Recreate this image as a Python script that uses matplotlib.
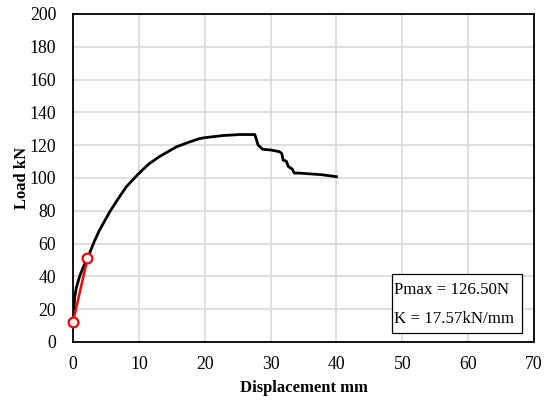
import numpy as np
import matplotlib.pyplot as plt
from matplotlib.patches import Rectangle

plt.rcParams['font.family'] = ['Liberation Serif', 'DejaVu Serif']

# load-displacement curve
disp = [0.0, 0.1, 0.25, 0.5, 1.0, 1.6, 2.5, 3.2, 4.0, 5.6, 6.8, 8.1, 10.0,
        11.5, 13.1, 15.7, 17.7, 19.2, 20.0, 22.8, 25.3, 27.6, 27.8, 28.1,
        28.8, 30.0, 31.3, 31.7, 31.9, 32.4, 32.7, 33.3, 33.6, 34.3, 37.8, 40.0]
load = [10.0, 18.0, 27.0, 33.0, 40.0, 46.0, 54.0, 61.0, 68.0, 79.5, 87.0,
        94.7, 102.8, 108.5, 113.0, 119.0, 122.0, 124.0, 124.6, 125.9, 126.5,
        126.5, 124.2, 120.1, 117.5, 117.1, 116.1, 115.0, 111.0, 110.2, 107.0,
        105.4, 103.0, 103.0, 102.0, 100.8]

# stiffness line points
k_disp = [0.0, 2.2]
k_load = [12.3, 50.95]

x_ticks = np.arange(0, 71, 10)
y_ticks = np.arange(0, 201, 20)
box_lines = ["Pmax = 126.50N", "K = 17.57kN/mm"]

fig = plt.figure(figsize=(5.51, 4.03), dpi=100)
ax = fig.add_axes([73/551, 1 - 342/403, (534-73)/551, (342-14)/403])

ax.plot(disp, load, color="black", linewidth=2.0, zorder=3)
ax.plot(k_disp, k_load, color="red", linewidth=1.8, marker="o",
        markersize=7, markerfacecolor="white", markeredgecolor="red",
        markeredgewidth=1.6, zorder=4, clip_on=False)

ax.set_xlim(0, 70)
ax.set_ylim(0, 200)
ax.set_xticks(x_ticks)
ax.set_yticks(y_ticks)
ax.tick_params(axis="y", length=0, labelsize=12.8, pad=12)
ax.tick_params(axis="x", length=0, labelsize=12.8, pad=10)
ax.grid(True, color="#d9d9d9", linewidth=1.2)
ax.set_axisbelow(True)
for s in ax.spines.values():
    s.set_linewidth(1.3)
    s.set_color("black")

ax.set_xlabel("Displacement mm", fontsize=12, fontweight="bold", labelpad=5)
ax.set_ylabel("Load kN", fontsize=12, fontweight="bold", labelpad=0)

# annotation box
ax.add_patch(Rectangle((0.692, 0.027), 0.282, 0.180, transform=ax.transAxes,
                       facecolor="white", edgecolor="black", linewidth=0.9,
                       zorder=5))
ax.text(0.697, (342-290)/328, box_lines[0], transform=ax.transAxes,
        fontsize=12.2, va="center", ha="left", zorder=6)
ax.text(0.697, (342-319)/328, box_lines[1], transform=ax.transAxes,
        fontsize=12.2, va="center", ha="left", zorder=6)

fig.savefig("out.png", dpi=100)
